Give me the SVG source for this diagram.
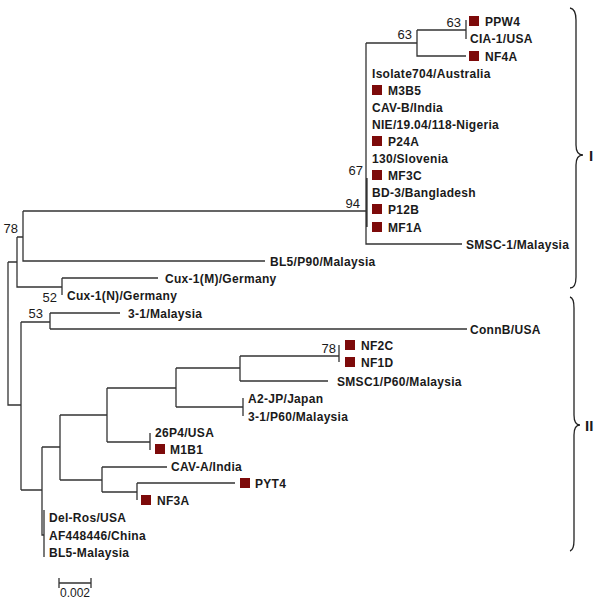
<svg xmlns="http://www.w3.org/2000/svg" width="600" height="602" viewBox="0 0 600 602">
<style>
.l{font-family:"Liberation Sans",Arial,Helvetica,sans-serif;font-size:12px;font-weight:bold;fill:#1a1a1a;letter-spacing:0.3px}
.b{font-family:"Liberation Sans",Arial,Helvetica,sans-serif;font-size:13px;fill:#1a1a1a;text-anchor:end}
.s{fill:#7d0a0a}
.e{fill:none;stroke:#333;stroke-width:1.3}
.br{fill:none;stroke:#222;stroke-width:1.3}
.c{font-family:"Liberation Sans",Arial,Helvetica,sans-serif;font-size:15px;font-weight:bold;fill:#1a1a1a}
</style>
<rect width="600" height="602" fill="#fff"/>
<g id="connectors" class="e">
<path d="M466,20V39M417,30H466M417,30V56H466M366,43H417M366,43V244H462M367,178V227"/>
<path d="M23,211H366M23,211V261H265M17,237H23M17,237V287H62M62,278V295M62,278H158"/>
<path d="M8,262H17M8,262V405H21M21,322V490M21,322H50M50,313V329M50,313H120M50,329H467"/>
<path d="M21,490H42M42,447V535H44M44,510V557M42,447H60"/>
<path d="M60,415V480M60,415H107M60,480H102M107,388V442M107,388H176M107,442H150M150,433V450"/>
<path d="M176,368V407M176,368H240M176,407H243M243,398V416M240,356V381M240,356H339M240,381H328M339,345V362"/>
<path d="M102,467V492M102,467H167M102,492H137M137,483V500M137,483H235"/>
</g>
<g id="bootstrap">
<text class="b" x="461" y="27">63</text>
<text class="b" x="412" y="39">63</text>
<text class="b" x="363" y="175">67</text>
<text class="b" x="360" y="208">94</text>
<text class="b" x="18" y="233">78</text>
<text class="b" x="57" y="302">52</text>
<text class="b" x="43" y="318">53</text>
<text class="b" x="336" y="353">78</text>
</g>
<g id="n-PPW4"><rect class="s" x="469" y="16" width="10" height="10"/><text class="l" x="485" y="25.5">PPW4</text></g>
<g id="n-CIA1"><text class="l" x="470" y="42.5">CIA-1/USA</text></g>
<g id="n-NF4A"><rect class="s" x="469" y="51" width="10" height="10"/><text class="l" x="485" y="60.5">NF4A</text></g>
<g id="n-Isolate704"><text class="l" x="372" y="77.5">Isolate704/Australia</text></g>
<g id="n-M3B5"><rect class="s" x="372" y="85" width="10" height="10"/><text class="l" x="388" y="94.5">M3B5</text></g>
<g id="n-CAVB"><text class="l" x="372" y="111.5">CAV-B/India</text></g>
<g id="n-NIE"><text class="l" x="372" y="128.5">NIE/19.04/118-Nigeria</text></g>
<g id="n-P24A"><rect class="s" x="372" y="136" width="10" height="10"/><text class="l" x="388" y="145.5">P24A</text></g>
<g id="n-130"><text class="l" x="372" y="162.5">130/Slovenia</text></g>
<g id="n-MF3C"><rect class="s" x="372" y="170" width="10" height="10"/><text class="l" x="388" y="179.5">MF3C</text></g>
<g id="n-BD3"><text class="l" x="372" y="196.5">BD-3/Bangladesh</text></g>
<g id="n-P12B"><rect class="s" x="372" y="204" width="10" height="10"/><text class="l" x="388" y="213.5">P12B</text></g>
<g id="n-MF1A"><rect class="s" x="372" y="222" width="10" height="10"/><text class="l" x="388" y="231.5">MF1A</text></g>
<g id="n-SMSC1"><text class="l" x="466" y="248.5">SMSC-1/Malaysia</text></g>
<g id="n-BL5P90"><text class="l" x="270" y="265.5">BL5/P90/Malaysia</text></g>
<g id="n-CuxM"><text class="l" x="165" y="282.5">Cux-1(M)/Germany</text></g>
<g id="n-CuxN"><text class="l" x="67" y="299.5">Cux-1(N)/Germany</text></g>
<g id="n-31"><text class="l" x="128" y="317.5">3-1/Malaysia</text></g>
<g id="n-ConnB"><text class="l" x="470" y="333.5">ConnB/USA</text></g>
<g id="n-NF2C"><rect class="s" x="345" y="340" width="10" height="10"/><text class="l" x="361" y="349.5">NF2C</text></g>
<g id="n-NF1D"><rect class="s" x="345" y="357" width="10" height="10"/><text class="l" x="361" y="366.5">NF1D</text></g>
<g id="n-SMSC1P60"><text class="l" x="337" y="385.5">SMSC1/P60/Malaysia</text></g>
<g id="n-A2JP"><text class="l" x="248" y="402.5">A2-JP/Japan</text></g>
<g id="n-31P60"><text class="l" x="248" y="420.5">3-1/P60/Malaysia</text></g>
<g id="n-26P4"><text class="l" x="155" y="436.5">26P4/USA</text></g>
<g id="n-M1B1"><rect class="s" x="155" y="444" width="10" height="10"/><text class="l" x="170" y="453.5">M1B1</text></g>
<g id="n-CAVA"><text class="l" x="171" y="471">CAV-A/India</text></g>
<g id="n-PYT4"><rect class="s" x="240" y="478" width="10" height="10"/><text class="l" x="255" y="487.5">PYT4</text></g>
<g id="n-NF3A"><rect class="s" x="141" y="495" width="10" height="10"/><text class="l" x="157" y="504.5">NF3A</text></g>
<g id="n-DelRos"><text class="l" x="49" y="521.5">Del-Ros/USA</text></g>
<g id="n-AF448446"><text class="l" x="49" y="539.5">AF448446/China</text></g>
<g id="n-BL5"><text class="l" x="49" y="556.5">BL5-Malaysia</text></g>
<g id="scale">
<path class="e" d="M59,583H91M59,578V588M91,578V588"/>
<text x="75" y="597" text-anchor="middle" style="font-family:'Liberation Sans',Arial,sans-serif;font-size:12px;fill:#1a1a1a">0.002</text>
</g>
<g id="clade-I">
<path class="br" d="M570,8Q576,9 576,20L576,145Q576,155 583,155Q576,155 576,165L576,277Q576,288 570,288"/>
<text class="c" x="589" y="160.5">I</text>
</g>
<g id="clade-II">
<path class="br" d="M570,297Q574,298 574,308L574,415Q574,425 580,425Q574,425 574,435L574,540Q574,550 570,551"/>
<text class="c" x="585" y="430.5">II</text>
</g>
</svg>
